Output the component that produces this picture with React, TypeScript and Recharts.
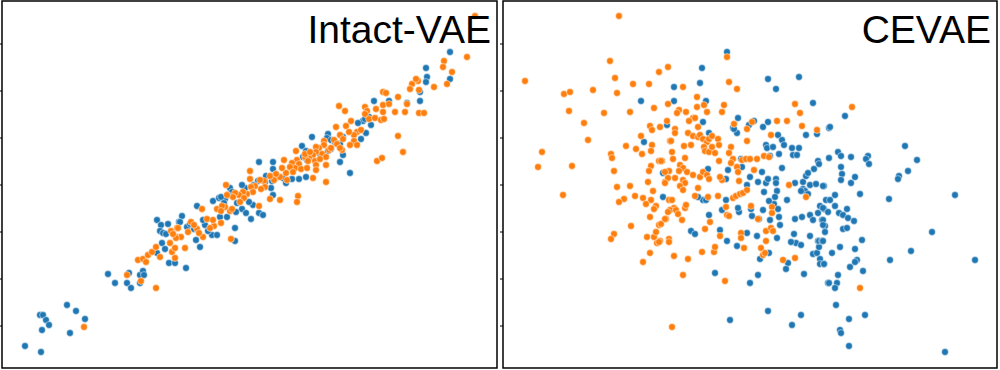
import { ScatterChart, Scatter, XAxis, YAxis, ReferenceArea } from "recharts";

// tick marks on the left frame (no labels in the figure)
const yTicks = [44, 91, 138, 185, 232, 279, 326];

// values, [x, y] in the plot's own units (y grows downward)
const intactBlue: [number, number][] = [
  [25, 346], [41, 352], [40, 315], [43, 315], [46, 320], [49, 325], [42, 330], [67, 305], [76, 311], [85, 319],
  [70, 333], [108, 274], [115, 283], [127, 283], [131, 288], [129, 273], [140, 283], [140, 275], [143, 271], [144, 275],
  [157, 220], [161, 225], [168, 224], [160, 231], [163, 233], [166, 234], [162, 243], [165, 249], [157, 253], [169, 263],
  [175, 263], [179, 222], [182, 216], [180, 222], [187, 227], [197, 206], [194, 229], [200, 247], [212, 235], [217, 235],
  [213, 201], [219, 198], [186, 268], [235, 241], [190, 224], [205, 225], [208, 231], [203, 220], [196, 240],
  [374, 101], [389, 101], [369, 117], [363, 121], [358, 123], [366, 133], [361, 139], [343, 155], [340, 162], [328, 134],
  [327, 138], [312, 137], [331, 149], [302, 146], [306, 151], [303, 157], [307, 160], [319, 153], [273, 162], [259, 162],
  [273, 169], [266, 176], [277, 177], [272, 181], [271, 188], [265, 182], [258, 181], [254, 185], [245, 188], [242, 185],
  [230, 188], [232, 192], [228, 195], [225, 199], [221, 197], [224, 203], [237, 203], [253, 205], [249, 202], [273, 195],
  [242, 209], [236, 212], [227, 217], [246, 213], [251, 219], [259, 213], [263, 215], [235, 228], [220, 217], [350, 173],
  [306, 177], [299, 179], [292, 179], [283, 178], [286, 183], [340, 144], [328, 151],
  [450, 52], [426, 68], [427, 77], [426, 82], [450, 79], [420, 92], [420, 101], [407, 103], [343, 137], [331, 140],
  [335, 142], [365, 119], [371, 125],
];

const intactOrange: [number, number][] = [
  [84, 327], [127, 275], [141, 281], [156, 288], [138, 260], [143, 259], [146, 262], [148, 255], [152, 252], [156, 247],
  [160, 257], [170, 243], [172, 252], [175, 248], [175, 258], [171, 231], [177, 228], [177, 237],
  [185, 248], [188, 232], [191, 222], [197, 229], [202, 209], [203, 237], [207, 219], [214, 226], [217, 209], [181, 237],
  [178, 228], [176, 238], [173, 234], [231, 239], [194, 225], [199, 233], [210, 228], [213, 220],
  [383, 92], [386, 93], [339, 106], [345, 111], [365, 107], [367, 111], [383, 105], [389, 104], [395, 112], [383, 112],
  [365, 114], [369, 119], [375, 118], [381, 120], [351, 121], [346, 126], [336, 127], [357, 132], [361, 130], [354, 135],
  [349, 132], [340, 135], [343, 139], [334, 140], [337, 144], [354, 141], [357, 145], [350, 145], [342, 150], [329, 150],
  [324, 141], [324, 145], [319, 148], [316, 147], [322, 154], [316, 152], [313, 155], [309, 158], [305, 157], [305, 154],
  [310, 152], [296, 151], [297, 160], [292, 163], [299, 164], [295, 168], [301, 169], [307, 168], [308, 161], [315, 161],
  [316, 165], [326, 165], [326, 157], [320, 159], [316, 170], [313, 178], [326, 182], [284, 160], [290, 167], [293, 172],
  [286, 173], [282, 168], [280, 177], [287, 180], [276, 174], [274, 180], [270, 176], [264, 181], [260, 180], [265, 187],
  [261, 189], [255, 186], [251, 187], [253, 192], [250, 179], [250, 171], [247, 194], [243, 192], [239, 195], [235, 193],
  [244, 198], [240, 202], [233, 197], [227, 195], [226, 185], [225, 207], [222, 206], [230, 211], [221, 211], [259, 206],
  [270, 199], [280, 200], [298, 196], [297, 202], [377, 161], [382, 158], [398, 136], [221, 223], [232, 209],
  [475, 16], [467, 57], [444, 61], [443, 67], [452, 72], [447, 84], [434, 87], [419, 90], [418, 81], [412, 84],
  [416, 79], [410, 89], [398, 97], [407, 104], [405, 112], [419, 113], [424, 113], [403, 152], [331, 148], [340, 148],
  [376, 109], [384, 119],
];

const cevaeBlue: [number, number][] = [
  [641, 101], [667, 125], [644, 142], [663, 173], [663, 197],
  [727, 52], [702, 68], [700, 83], [674, 87], [674, 101], [706, 101], [768, 79], [776, 89], [799, 77], [813, 103],
  [738, 118], [703, 122], [749, 125], [733, 128], [763, 127], [768, 122], [829, 128],
  [709, 133], [737, 133], [734, 129], [754, 121], [766, 145], [767, 148], [773, 147], [778, 135], [782, 140], [784, 145],
  [792, 148], [793, 155], [799, 148], [797, 155], [806, 135], [817, 134], [779, 154], [770, 156], [782, 168], [762, 172],
  [758, 182], [766, 183], [768, 179], [776, 179], [776, 183], [777, 191], [775, 197], [774, 204], [769, 201], [764, 192],
  [747, 185], [750, 177], [742, 167], [741, 159], [728, 170], [726, 179], [708, 169], [691, 231], [695, 234], [703, 200],
  [706, 200], [698, 197], [722, 210], [726, 200], [739, 212], [751, 209], [752, 216], [759, 219], [757, 236], [763, 210],
  [778, 209], [779, 217], [770, 220], [780, 225], [777, 238], [787, 200], [795, 183], [803, 182], [806, 176], [808, 173],
  [814, 169], [818, 161], [819, 164], [824, 186], [803, 189], [805, 191], [801, 191], [808, 194], [810, 185], [816, 184],
  [820, 206], [824, 209], [818, 213], [810, 215], [795, 219], [802, 217], [822, 220], [813, 220], [810, 236], [818, 241],
  [794, 234], [796, 243], [801, 245], [825, 226], [826, 200], [720, 230], [727, 241], [737, 246], [747, 233], [709, 215],
  [738, 208],
  [715, 273], [750, 283], [758, 275], [760, 259], [769, 253], [788, 263], [786, 269], [791, 242], [804, 274], [813, 254],
  [817, 253], [820, 259], [820, 264], [824, 264], [819, 247], [819, 241], [822, 241], [828, 283], [768, 311], [730, 320],
  [801, 315], [792, 325],
  [845, 116], [830, 127],
  [905, 146], [917, 160], [908, 171], [899, 176], [898, 179], [868, 156], [866, 159], [869, 164], [851, 157], [838, 152],
  [841, 156], [829, 158], [841, 167], [842, 174], [841, 180], [855, 177], [851, 183], [823, 186], [835, 195], [830, 200],
  [860, 194], [889, 199], [955, 195], [823, 208], [828, 212], [835, 206], [847, 209], [839, 213], [843, 215], [848, 218],
  [854, 221], [823, 220], [823, 225], [843, 229], [847, 228], [825, 232], [862, 240], [823, 241], [840, 247], [855, 249],
  [832, 253], [932, 232], [911, 251], [890, 260], [975, 260], [857, 260], [855, 262], [850, 267], [863, 271], [838, 275],
  [829, 283], [837, 283], [835, 288], [836, 305], [865, 315], [849, 319], [840, 330], [841, 333], [849, 346], [945, 352],
  [824, 264],
];

const cevaeOrange: [number, number][] = [
  [619, 16], [610, 61], [525, 81], [615, 78], [564, 94], [570, 92], [593, 90], [617, 93], [633, 84], [649, 84],
  [659, 72], [668, 67], [569, 111], [604, 113], [630, 112], [654, 108], [668, 104], [584, 123], [650, 126], [660, 127],
  [667, 121],
  [588, 140], [542, 152], [538, 167], [572, 166], [563, 195], [611, 154], [612, 158], [614, 171], [626, 146], [636, 149],
  [642, 154], [641, 136], [652, 130], [652, 145], [651, 151], [659, 161], [662, 161], [651, 166], [649, 171], [665, 182],
  [648, 182], [669, 171], [617, 187], [630, 186], [635, 196], [624, 199], [619, 202], [643, 198], [653, 191], [651, 200],
  [646, 204], [656, 206], [654, 209], [650, 217], [666, 219], [659, 225], [631, 226], [614, 234], [611, 239], [647, 237],
  [654, 237], [656, 232], [660, 241], [657, 243], [669, 239], [669, 200], [670, 141],
  [659, 242], [650, 253], [643, 262], [669, 242],
  [727, 57], [683, 87], [729, 82], [737, 89], [697, 97], [697, 107], [704, 105], [724, 105], [722, 112], [707, 112],
  [679, 110], [677, 113], [686, 112], [693, 118], [695, 118], [689, 121], [734, 124], [752, 122], [777, 121], [787, 121],
  [795, 104], [800, 113], [802, 126], [698, 127], [675, 129], [817, 130], [747, 129],
  [675, 133], [688, 133], [693, 136], [671, 141], [684, 146], [691, 145], [698, 137], [700, 135], [703, 139], [707, 142],
  [709, 139], [712, 136], [704, 147], [705, 151], [709, 152], [712, 147], [715, 153], [718, 139], [719, 145], [731, 147],
  [729, 153], [733, 159], [742, 160], [746, 159], [750, 159], [747, 141], [661, 161], [672, 152], [673, 159], [685, 158],
  [680, 165], [683, 168], [679, 171], [665, 172], [668, 178], [665, 183], [675, 178], [683, 180], [687, 172], [693, 175],
  [700, 177], [703, 172], [707, 175], [709, 179], [719, 161], [722, 180], [720, 177], [731, 163], [737, 167], [738, 172],
  [739, 181], [757, 159], [764, 156], [769, 157], [771, 135], [685, 183], [680, 186], [683, 190], [698, 188], [695, 196],
  [672, 200], [674, 208], [670, 210], [676, 210], [685, 208], [686, 205], [678, 214], [668, 212], [665, 219], [682, 220],
  [718, 196], [733, 198], [736, 196], [740, 194], [743, 193], [747, 190], [708, 197], [726, 207], [727, 215], [729, 216],
  [710, 222], [705, 229], [720, 236], [741, 233], [741, 238], [751, 206], [758, 219], [772, 207], [772, 213], [766, 231],
  [771, 228], [773, 231], [789, 185], [806, 197], [754, 170], [661, 224],
  [674, 256], [688, 259], [702, 252], [714, 252], [715, 247], [683, 275], [725, 281], [744, 248], [761, 248], [763, 255],
  [765, 253], [766, 241], [783, 260], [795, 258], [672, 327],
  [852, 107], [860, 288],
];

const toPoints = (rows: [number, number][]) => rows.map(([x, y]) => ({ x, y }));

const BLUE = "#1f77b4";
const ORANGE = "#ff7f0e";

function Dot(props: any) {
  const { cx, cy, fill } = props;
  if (cx == null || cy == null) return null;
  return <circle cx={cx} cy={cy} r={3.4} fill={fill} stroke="#fff" strokeWidth={0.5} />;
}

function Panel({
  title,
  blue,
  orange,
  xDomain,
  left,
  axisWidth,
}: {
  title: string;
  blue: [number, number][];
  orange: [number, number][];
  xDomain: [number, number];
  left: number;
  axisWidth: number;
}) {
  return (
    <div style={{ position: "absolute", left, top: 0, width: 500, height: 370 }}>
      <ScatterChart width={500} height={370} margin={{ top: 1, right: 3, bottom: 2, left: 0 }}>
        <XAxis type="number" dataKey="x" domain={xDomain} hide />
        <YAxis
          type="number"
          dataKey="y"
          domain={[1, 368]}
          reversed
          ticks={yTicks}
          interval={0}
          tick={() => <g />}
          tickSize={4}
          tickLine={{ stroke: "#000", strokeWidth: 1 }}
          axisLine={false}
          width={axisWidth}
        />
        <Scatter data={toPoints(blue)} fill={BLUE} shape={(p: any) => <Dot {...p} />} isAnimationActive={false} />
        <Scatter data={toPoints(orange)} fill={ORANGE} shape={(p: any) => <Dot {...p} />} isAnimationActive={false} />
        <ReferenceArea
          x1={xDomain[0]}
          x2={xDomain[1]}
          y1={1}
          y2={368}
          fill="none"
          fillOpacity={0}
          stroke="#000"
          strokeWidth={1.5}
          strokeOpacity={1}
        />
      </ScatterChart>
      <svg width={500} height={370} style={{ position: "absolute", left: 0, top: 0, pointerEvents: "none" }}>
        <text
          x={491}
          y={43}
          textAnchor="end"
          fontFamily="'Liberation Sans', Arial, sans-serif"
          fontSize={39}
          fill="#000"
        >
          {title}
        </text>
      </svg>
    </div>
  );
}

export default function App() {
  return (
    <div style={{ position: "absolute", left: 0, top: 0, width: 1000, height: 370, background: "#fff" }}>
      <Panel title="Intact-VAE" blue={intactBlue} orange={intactOrange} xDomain={[2, 497]} left={0} axisWidth={2} />
      <Panel title="CEVAE" blue={cevaeBlue} orange={cevaeOrange} xDomain={[503, 997]} left={500} axisWidth={3} />
    </div>
  );
}
